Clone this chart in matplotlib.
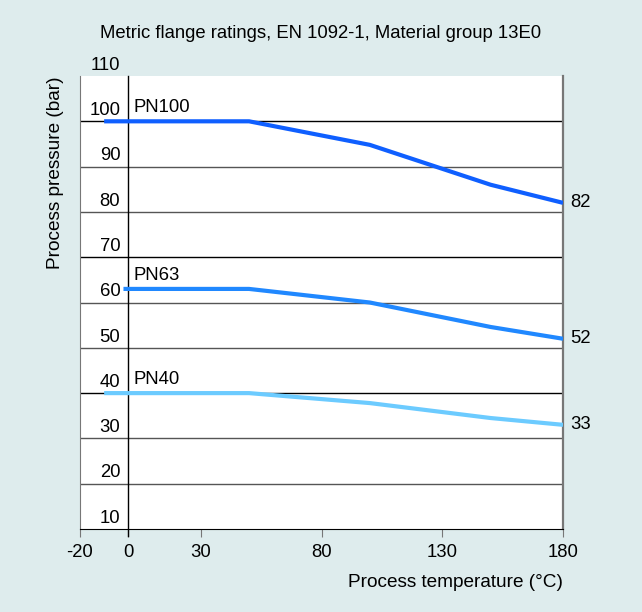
import numpy as np
import matplotlib
matplotlib.use("Agg")
from matplotlib import pyplot as plt

plt.rcParams['font.family'] = ['Liberation Sans', 'DejaVu Sans']

# data
temps = [-10, 50, 100, 150, 180]
pn100 = [100, 100, 94.8, 86, 82]
pn63_temps = [-2, 50, 100, 150, 180]
pn63 = [63, 63, 60, 54.6, 52]
pn40 = [40, 40, 37.8, 34.5, 33]

series = [
    ("PN100", temps, pn100, "#0f5fff"),
    ("PN63", pn63_temps, pn63, "#2088ff"),
    ("PN40", temps, pn40, "#6ccbff"),
]

x_ticks = [-20, 0, 30, 80, 130, 180]
y_levels = [10, 20, 30, 40, 50, 60, 70, 80, 90, 100, 110]
grid_black = [40, 70, 100]

bg = "#deeced"
fs = 13.3

fig = plt.figure(figsize=(6.42, 6.12), dpi=100, facecolor=bg)
ax = fig.add_axes([0.1246, 0.1356, 0.7524, 0.7402])
ax.set_xlim(-20, 180)
ax.set_ylim(10, 110)
ax.set_facecolor("white")

# horizontal grid lines
for v in y_levels[1:-1]:
    c = "black" if v in grid_black else "#555555"
    ax.axhline(v, color=c, lw=1.0, zorder=1)

# y labels sit above each level
for v in y_levels:
    ax.text(-3.3, v + 0.5, str(v), ha="right", va="bottom", fontsize=fs,
            clip_on=False)

# vertical line at 0
ax.plot([0, 0], [110, 8.5], color="black", lw=1.0, clip_on=False, zorder=2)

# spines
ax.spines["top"].set_visible(False)
ax.spines["left"].set_color("#777777")
ax.spines["right"].set_color("#777777")
ax.spines["right"].set_linewidth(1.6)
ax.spines["bottom"].set_color("black")

ax.set_yticks([])
ax.set_xticks(x_ticks)
ax.set_xticklabels([str(t) for t in x_ticks], fontsize=fs)
ax.tick_params(axis="x", length=6, color="#777777", pad=5)

# curves
for name, xs, ys, col in series:
    ax.plot(xs, ys, color=col, lw=3, solid_capstyle="butt", zorder=3)
    ax.text(2, ys[0] + 1.1, name, ha="left", va="bottom", fontsize=fs)
    ax.text(183, ys[-1], str(int(round(ys[-1]))), ha="left", va="center",
            fontsize=fs, clip_on=False)

fig.text(0.5, 0.946, "Metric flange ratings, EN 1092-1, Material group 13E0",
         ha="center", va="center", fontsize=fs)
ax.text(-0.051, 1.0, "Process pressure (bar)", rotation=90, ha="center",
        va="top", fontsize=fs + 0.4, transform=ax.transAxes)
ax.text(1.0, -0.117, "Process temperature (°C)", ha="right", va="center",
        fontsize=fs + 0.4, transform=ax.transAxes)

fig.savefig("out.png", dpi=100, facecolor=bg)
